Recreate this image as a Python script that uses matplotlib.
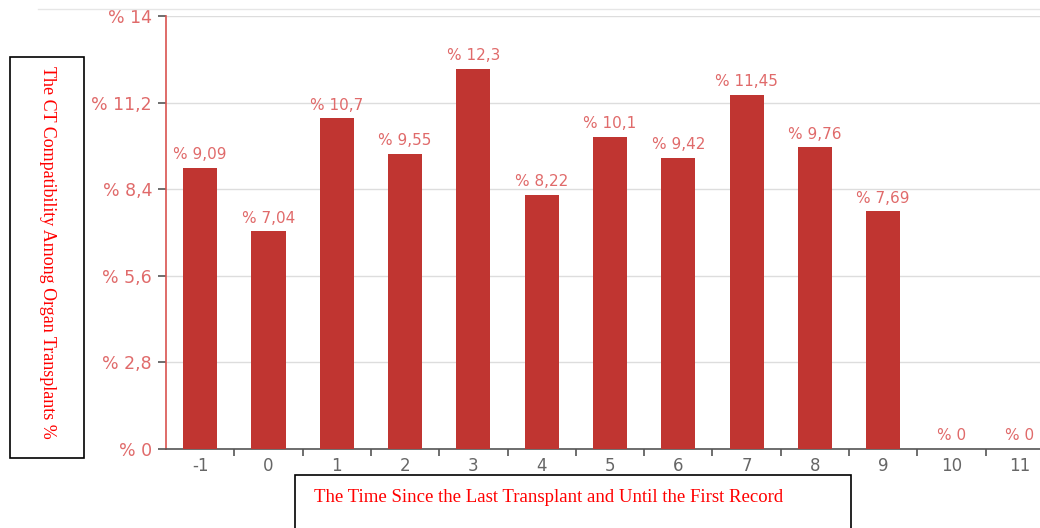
import matplotlib.pyplot as plt
import numpy as np
from matplotlib.lines import Line2D
from matplotlib.patches import Rectangle

# Data
categories = ['-1', '0', '1', '2', '3', '4', '5', '6', '7', '8', '9', '10', '11']
values = [9.09, 7.04, 10.7, 9.55, 12.3, 8.22, 10.1, 9.42, 11.45, 9.76, 7.69, 0, 0]
y_ticks = [0, 2.8, 5.6, 8.4, 11.2, 14]

BAR_COLOR = '#c03531'
LABEL_COLOR = '#e06a6a'
SPINE_COLOR = '#d9534f'


def pct(v):
    return "% " + f"{v:g}".replace('.', ',')


fig = plt.figure(figsize=(10.4, 5.28), dpi=100)
ax = fig.add_axes([166 / 1040, 1 - 449 / 528, 888 / 1040, 433 / 528])

x = np.arange(len(categories))
ax.bar(x, values, width=0.5, color=BAR_COLOR, zorder=3)

for xi, v in zip(x, values):
    ax.annotate(pct(v), (xi, v), xytext=(0, 4), textcoords='offset points',
                ha='center', va='bottom', fontsize=11, color=LABEL_COLOR)

ax.set_xlim(-0.5, len(categories) - 0.5)
ax.set_ylim(0, 14)
ax.set_yticks(y_ticks)
ax.set_yticklabels([pct(t) for t in y_ticks], color=LABEL_COLOR, fontsize=12.5)
ax.set_xticks(x)
ax.set_xticklabels(categories, color='#666666', fontsize=12)
ax.set_xticks(np.arange(0.5, len(categories) - 0.5), minor=True)
ax.tick_params(axis='x', which='major', length=0, pad=6)
ax.tick_params(axis='x', which='minor', length=5, color='#555555', width=1.2)
ax.tick_params(axis='y', length=6, color='#555555', width=1.2, pad=4)

ax.grid(axis='y', color='#dddddd', linewidth=1, zorder=0)
for s in ['top', 'right']:
    ax.spines[s].set_visible(False)
ax.spines['left'].set_color(SPINE_COLOR)
ax.spines['left'].set_linewidth(1.2)
ax.spines['bottom'].set_color('#555555')
ax.spines['bottom'].set_linewidth(1.2)

# faint rule across the top
fig.add_artist(Line2D([38 / 1040, 1], [1 - 9 / 528, 1 - 9 / 528],
                      color='#e6e6e6', linewidth=1))

# boxed axis titles
fig.add_artist(Rectangle((10 / 1040, 1 - 458 / 528), 74 / 1040, 401 / 528,
                         fill=False, edgecolor='black', linewidth=1.2))
fig.text(47 / 1040, 1 - 252 / 528, 'The CT Compatibility Among Organ Transplants %',
         rotation=270, ha='center', va='center', color='red',
         family='Liberation Serif', fontsize=13)

fig.add_artist(Rectangle((295 / 1040, -0.05), 556 / 1040, 1 - 475 / 528 + 0.05,
                         fill=False, edgecolor='black', linewidth=1.2))
fig.text(549 / 1040, 1 - 497 / 528,
         'The Time Since the Last Transplant and Until the First Record',
         ha='center', va='center', color='red',
         family='Liberation Serif', fontsize=13.5)

fig.savefig('out.png', dpi=100)
